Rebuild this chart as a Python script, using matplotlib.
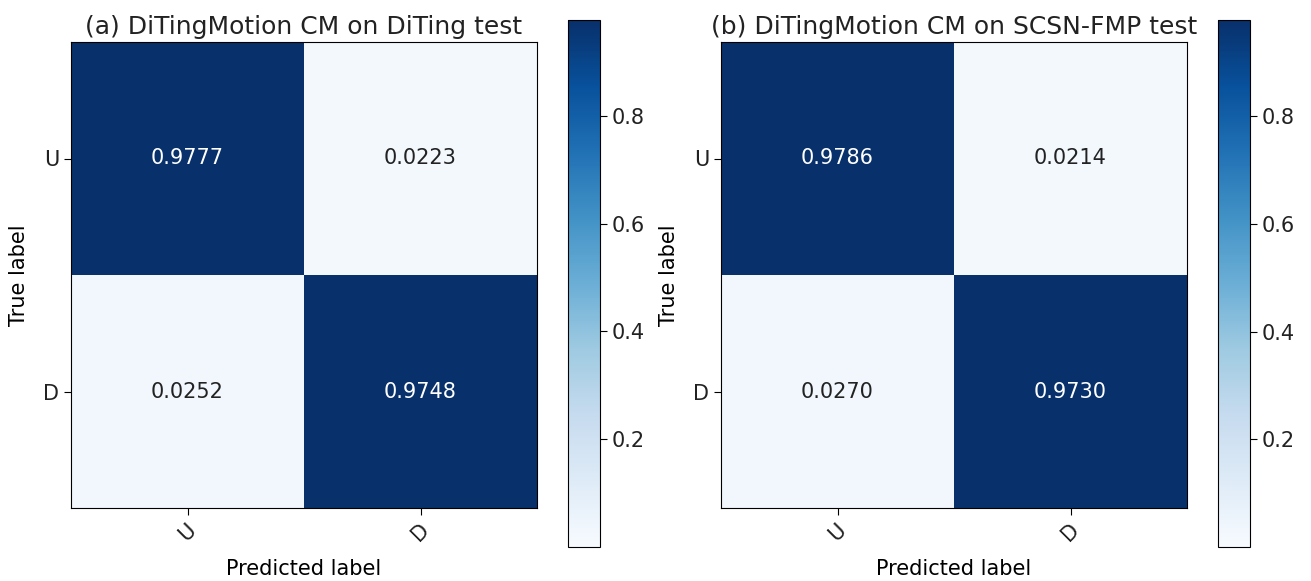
import matplotlib.pyplot as plt
import numpy as np

classes = ['U', 'D']
titles = ['(a) DiTingMotion CM on DiTing test',
          '(b) DiTingMotion CM on SCSN-FMP test']
cm_diting = [[0.9777, 0.0223],
             [0.0252, 0.9748]]
cm_scsn = [[0.9786, 0.0214],
           [0.0270, 0.9730]]

W, H = 1311, 581
fig = plt.figure(figsize=(W / 100, H / 100), dpi=100)
plt.rcParams['text.color'] = '#222222'
plt.rcParams['xtick.labelcolor'] = '#222222'
plt.rcParams['ytick.labelcolor'] = '#222222'


def px(x0, y0, x1, y1):
    return [x0 / W, 1 - y1 / H, (x1 - x0) / W, (y1 - y0) / H]


ax_boxes = [px(71, 42, 537, 508), px(721, 42, 1187, 508)]
cb_boxes = [px(568, 20, 600, 547), px(1218, 20, 1250, 547)]

FS = 15


def plot_cm(ax, cax, cm, title):
    cm = np.array(cm)
    im = ax.imshow(cm, interpolation='nearest', cmap=plt.cm.Blues,
                   vmin=0, vmax=cm.max())
    ax.set_title(title, fontsize=18, color='#222222')
    cb = fig.colorbar(im, cax=cax)
    cb.set_ticks([0.2, 0.4, 0.6, 0.8])
    cb.ax.tick_params(labelsize=FS, length=5)
    ticks = np.arange(len(classes))
    ax.set_xticks(ticks)
    ax.set_xticklabels(classes, rotation=45, fontsize=FS)
    ax.set_yticks(ticks)
    ax.set_yticklabels(classes, fontsize=FS)
    ax.tick_params(length=5)
    thresh = cm.max() / 2.
    for i in range(cm.shape[0]):
        for j in range(cm.shape[1]):
            ax.text(j, i, format(cm[i, j], '.4f'),
                    ha='center', va='center', fontsize=FS,
                    color='white' if cm[i, j] > thresh else '#222222')
    ax.set_ylabel('True label', fontsize=FS, labelpad=10)
    ax.set_xlabel('Predicted label', fontsize=FS, labelpad=10)


for k, cm in enumerate([cm_diting, cm_scsn]):
    ax = fig.add_axes(ax_boxes[k])
    cax = fig.add_axes(cb_boxes[k])
    plot_cm(ax, cax, cm, titles[k])

fig.savefig('out.png', dpi=100)
